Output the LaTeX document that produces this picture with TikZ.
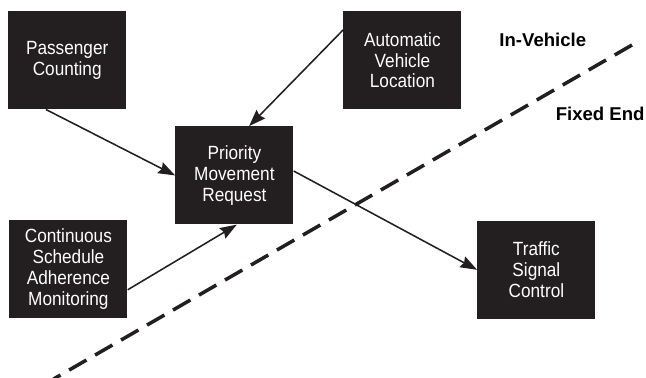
\documentclass[tikz,border=0pt]{standalone}
\usepackage{fontspec}
\setmainfont{Liberation Sans}
\newfontfamily\boxfont[FakeStretch=0.9]{Liberation Sans}
\usetikzlibrary{arrows.meta}
\definecolor{ink}{RGB}{35,31,32}
\tikzset{
  unitbox/.style={fill=ink, text=white, minimum width=2.95cm, minimum height=2.45cm,
    inner sep=0pt, align=center, font=\boxfont\fontsize{13.6}{14.9}\selectfont},
  feed/.style={draw=ink, line width=1.1pt, -{Stealth[length=0.42cm,width=0.3cm,inset=0.05cm]}},
  side/.style={inner sep=0pt, font=\bfseries\fontsize{13.2}{15}\selectfont}
}
\begin{document}
\begin{tikzpicture}
    \useasboundingbox (0,0) rectangle (16.15,9.425);
    % in-vehicle / fixed end boundary
    \coordinate (lineTop) at (15.8,8.3);
    \coordinate (lineBot) at (1.34,-0.05);
    \draw[ink, line width=2.5pt, dash pattern=on 0.5cm off 0.25cm] (lineTop) -- (lineBot);
    \node[side, anchor=base west] (inveh) at (12.48,8.26) {In-Vehicle};
    \node[side, anchor=base east] (fixend) at (16.12,6.41) {Fixed End};
    % functions
    \node[unitbox] (pc) at (1.68,7.92) {Passenger\\Counting};
    \node[unitbox] (avl) at (10.06,7.92) {Automatic\\Vehicle\\Location};
    \node[unitbox] (pmr) at (5.86,5.04) {Priority\\Movement\\Request};
    \node[unitbox] (csam) at (1.71,2.69) {Continuous\\Schedule\\Adherence\\Monitoring};
    \node[unitbox] (tsc) at (13.41,2.68) {Traffic\\Signal\\Control};
    % links
    \draw[feed] ([xshift=0.95cm]pc.south west) -- (pmr.west);
    \draw[feed] ([yshift=-0.475cm]avl.north west) -- ([xshift=1.85cm]pmr.north west);
    \draw[feed] ([yshift=-0.51cm]csam.east) -- ([xshift=0.06cm]pmr.south);
    \draw[feed] ([yshift=0.11cm]pmr.east) -- (tsc.west);
\end{tikzpicture}
\end{document}
